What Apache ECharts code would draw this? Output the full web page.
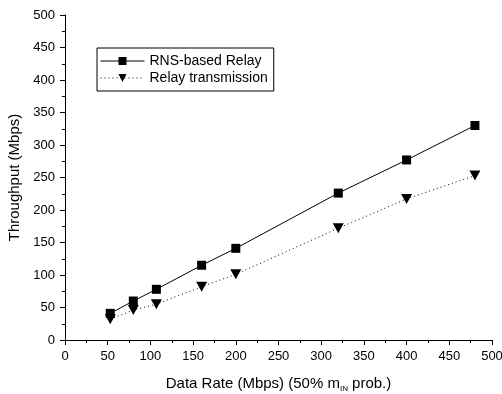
<!DOCTYPE html>
<html><head><meta charset="utf-8">
<script src="https://cdn.jsdelivr.net/npm/echarts@6/dist/echarts.min.js"></script>
<style>html,body{margin:0;padding:0;background:#fff}#c{width:502px;height:394px}</style>
</head><body><div id="c"></div>
<script>
const dataRates = [53, 80, 107, 160, 200, 320, 400, 480];
const rnsRelay = [41, 60, 78, 115, 141, 226, 277, 330];
const relayTx = [32, 46, 55, 82, 101, 172, 217, 253];
const seriesNames = ['RNS-based Relay', 'Relay transmission'];

const font = 'Liberation Sans, Arial, sans-serif';
const chart = echarts.init(document.getElementById('c'));
chart.setOption({
  animation: false,
  backgroundColor: '#fff',
  grid: {left: 65, right: 10, top: 15, bottom: 54, containLabel: false, outerBoundsMode: 'none'},
  legend: {
    left: 97, top: 48, orient: 'vertical',
    borderColor: '#000', borderWidth: 1,
    padding: [6, 6, 6, 3], itemGap: 3,
    itemWidth: 44, itemHeight: 10,
    lineStyle: {width: 1},
    textStyle: {fontFamily: font, fontSize: 14, color: '#000'},
    data: seriesNames
  },
  xAxis: {
    type: 'value', min: 0, max: 500, interval: 50,
    name: '{n|Data Rate (Mbps) (50% m}{s|IN}{n| prob.)}',
    nameLocation: 'middle', nameGap: 35,
    nameTextStyle: {rich: {
      n: {fontFamily: font, fontSize: 15, color: '#000'},
      s: {fontFamily: font, fontSize: 8, color: '#000', padding: [10, 0, 0, 0]}
    }},
    axisLine: {show: true, lineStyle: {color: '#000', width: 1}},
    axisTick: {show: true, inside: false, length: 5, lineStyle: {color: '#000'}},
    minorTick: {show: true, splitNumber: 2, length: 3, lineStyle: {color: '#000'}},
    axisLabel: {fontFamily: font, fontSize: 13, color: '#000', margin: 10},
    splitLine: {show: false}
  },
  yAxis: {
    type: 'value', min: 0, max: 500, interval: 50,
    name: 'Throughput (Mbps)', nameLocation: 'middle', nameGap: 42,
    nameTextStyle: {fontFamily: font, fontSize: 15, color: '#000'},
    axisLine: {show: true, lineStyle: {color: '#000', width: 1}},
    axisTick: {show: true, inside: false, length: 5, lineStyle: {color: '#000'}},
    minorTick: {show: true, splitNumber: 2, length: 3, lineStyle: {color: '#000'}},
    axisLabel: {fontFamily: font, fontSize: 13, color: '#000', margin: 10},
    splitLine: {show: false}
  },
  series: [
    {
      name: seriesNames[0], type: 'line',
      data: dataRates.map((x, i) => [x, rnsRelay[i]]),
      symbol: 'rect', symbolSize: 9,
      itemStyle: {color: '#000'},
      lineStyle: {color: '#000', width: 1, type: 'solid'}
    },
    {
      name: seriesNames[1], type: 'line',
      data: dataRates.map((x, i) => [x, relayTx[i]]),
      symbol: 'triangle', symbolSize: [11, 10], symbolRotate: 180,
      itemStyle: {color: '#000'},
      lineStyle: {color: '#000', width: 1, type: [1, 3]}
    }
  ]
});
</script></body></html>
